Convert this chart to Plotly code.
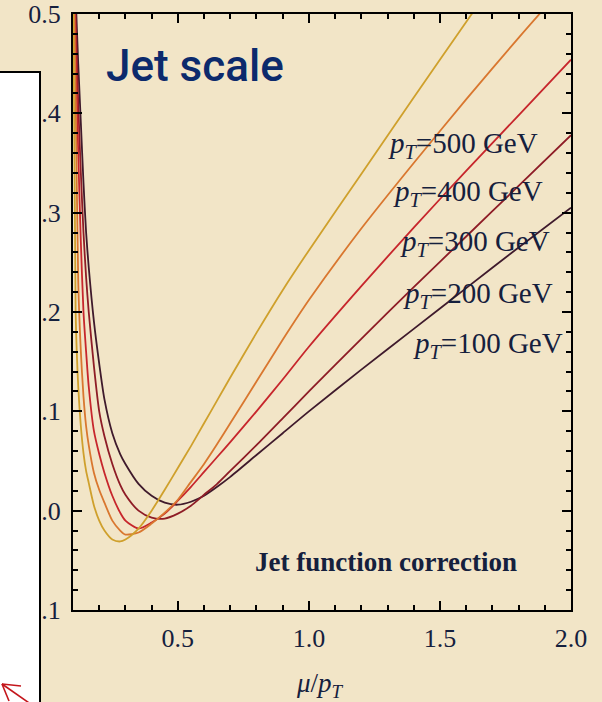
import plotly.graph_objects as go

# mu/pT values
mu_over_pt = [0.10, 0.11, 0.12, 0.13, 0.14, 0.15, 0.16, 0.18, 0.20, 0.22, 0.25, 0.28,
              0.30, 0.35, 0.40, 0.45, 0.50, 0.55, 0.60, 0.65, 0.70, 0.80, 0.90, 1.00,
              1.20, 1.40, 1.60, 1.80, 2.00]

corr_100 = [0.60, 0.52, 0.45, 0.39, 0.33, 0.28, 0.245, 0.19, 0.148, 0.112, 0.078, 0.057,
            0.047, 0.027, 0.015, 0.008, 0.006, 0.009, 0.015, 0.024, 0.034, 0.056, 0.078, 0.100,
            0.142, 0.183, 0.224, 0.265, 0.305]
corr_200 = [0.62, 0.50, 0.41, 0.34, 0.28, 0.235, 0.20, 0.145, 0.100, 0.075, 0.047, 0.026,
            0.016, 0.000, -0.007, -0.008, -0.003, 0.005, 0.016, 0.027, 0.040, 0.066, 0.093, 0.120,
            0.173, 0.225, 0.276, 0.327, 0.378]
corr_300 = [0.60, 0.47, 0.36, 0.27, 0.20, 0.16, 0.125, 0.080, 0.057, 0.038, 0.015, -0.002,
            -0.010, -0.018, -0.012, -0.003, 0.010, 0.024, 0.039, 0.054, 0.069, 0.100, 0.132, 0.165,
            0.226, 0.285, 0.342, 0.398, 0.454]
corr_400 = [0.58, 0.42, 0.23, 0.16, 0.115, 0.085, 0.066, 0.038, 0.021, 0.008, -0.010, -0.020,
            -0.024, -0.022, -0.013, -0.002, 0.011, 0.029, 0.047, 0.067, 0.088, 0.130, 0.172, 0.212,
            0.284, 0.350, 0.414, 0.476, 0.536]
corr_500 = [0.55, 0.20, 0.125, 0.085, 0.058, 0.040, 0.028, 0.005, -0.010, -0.020, -0.029, -0.031,
            -0.029, -0.018, 0.000, 0.021, 0.043, 0.065, 0.088, 0.111, 0.134, 0.179, 0.222, 0.262,
            0.339, 0.416, 0.492, 0.567, 0.640]

series_names = ["pT=100 GeV", "pT=200 GeV", "pT=300 GeV", "pT=400 GeV", "pT=500 GeV"]
series_vals = [corr_100, corr_200, corr_300, corr_400, corr_500]
series_colors = ["#3F1A2C", "#8E1C26", "#C7262C", "#D9772F", "#CFA02C"]

label_texts = ["<i>p<sub>T</sub></i>=100 GeV", "<i>p<sub>T</sub></i>=200 GeV",
               "<i>p<sub>T</sub></i>=300 GeV", "<i>p<sub>T</sub></i>=400 GeV",
               "<i>p<sub>T</sub></i>=500 GeV"]
label_x = [1.978, 1.940, 1.928, 1.901, 1.882]
label_y = [0.167, 0.217, 0.269, 0.320, 0.368]

BG = "#F2E5C7"
INK = "#15203D"
SERIF = "Liberation Serif, Times New Roman, serif"

# plot-area pixel frame
L, R, T, B = 73, 571, 14, 610
px2x = lambda px: (px - L) / (R - L)
py2y = lambda py: (B - py) / (B - T)

fig = go.Figure()
for name, vals, col in zip(series_names, series_vals, series_colors):
    fig.add_trace(go.Scatter(x=mu_over_pt, y=vals, mode="lines", name=name,
                             line=dict(color=col, width=1.8, shape="spline", smoothing=0.7),
                             showlegend=False, hoverinfo="skip"))

for t, xx, yy in zip(label_texts, label_x, label_y):
    fig.add_annotation(x=xx, y=yy, xref="x", yref="y", text=t, showarrow=False,
                       xanchor="right", yanchor="middle",
                       font=dict(family=SERIF, size=29, color=INK))

fig.add_annotation(x=1.295, y=-0.052, xref="x", yref="y", text="<b>Jet function correction</b>",
                   showarrow=False, xanchor="center", yanchor="middle",
                   font=dict(family=SERIF, size=27, color=INK))

fig.add_annotation(x=px2x(104), y=py2y(66), xref="paper", yref="paper",
                   text="Jet scale", showarrow=False, xanchor="left", yanchor="middle",
                   font=dict(family="Roboto, Arial, sans-serif", size=44, color="#0C2A6C",
                             weight=500))

fig.add_annotation(x=px2x(320), y=py2y(685), xref="paper", yref="paper",
                   text="<i>μ</i>/<i>p<sub>T</sub></i>", showarrow=False,
                   xanchor="center", yanchor="middle",
                   font=dict(family=SERIF, size=27, color=INK))

axis_common = dict(showline=True, linecolor="black", linewidth=2, mirror="allticks",
                   ticks="inside", ticklen=9, tickwidth=1.5, tickcolor="black",
                   showgrid=False, zeroline=False, automargin=False,
                   tickfont=dict(family=SERIF, size=26, color=INK))

fig.update_xaxes(range=[0.1, 2.0], tick0=0, dtick=0.5, tickformat=".1f",
                 minor=dict(dtick=0.1, tick0=0, ticks="inside", ticklen=5, tickwidth=1.5,
                            tickcolor="black", showgrid=False),
                 ticklabelstandoff=4,
                 **axis_common)
fig.update_yaxes(range=[-0.1, 0.5], tick0=0, dtick=0.1, tickformat=".1f",
                 minor=dict(dtick=0.02, tick0=0, ticks="inside", ticklen=5, tickwidth=1.5,
                            tickcolor="black", showgrid=False),
                 ticklabelstandoff=5,
                 **axis_common)

# white overlay box at left (slide decoration)
fig.add_shape(type="rect", xref="paper", yref="paper",
              x0=px2x(-5), x1=px2x(40), y0=py2y(720), y1=py2y(72),
              fillcolor="white", line=dict(color="black", width=2), layer="above")

# red arrow at bottom left (slide decoration)
arrow_col = "#C4161C"
for (xa, ya) in [(32, 705), (21, 686), (9, 701)]:
    fig.add_shape(type="line", xref="paper", yref="paper", x0=px2x(2), y0=py2y(684),
                  x1=px2x(xa), y1=py2y(ya), line=dict(color=arrow_col, width=1.6), layer="above")

fig.update_layout(width=602, height=702,
                  margin=dict(l=L, r=602 - R, t=T, b=702 - B, autoexpand=False),
                  paper_bgcolor=BG, plot_bgcolor=BG, showlegend=False)

fig.write_html("out.html")
